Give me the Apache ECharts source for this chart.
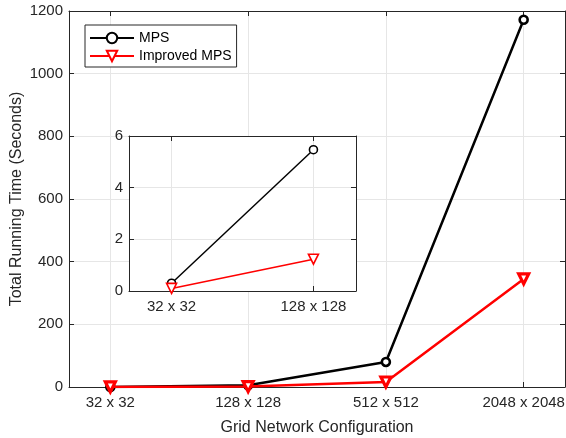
<!DOCTYPE html>
<html><head><meta charset="utf-8">
<script src="https://cdn.jsdelivr.net/npm/echarts@6/dist/echarts.min.js"></script>
<style>html,body{margin:0;padding:0;background:#fff}#c{width:566px;height:438px}</style>
</head><body><div id="c"></div>
<script>
const categories = ['32 x 32', '128 x 128', '512 x 512', '2048 x 2048'];
const mps = [0.3, 5.47, 80, 1172];
const improved = [0.1, 1.23, 16, 345];
const insetCount = 2;
const yTicks = [0, 200, 400, 600, 800, 1000, 1200];
const insetYTicks = [0, 2, 4, 6];

const FONT = "'Liberation Sans', Arial, Helvetica, sans-serif";
const AX = '#262626';
const GRIDC = '#e6e6e6';
const pos = categories.map((c, i) => i + 1);
const insetPos = pos.slice(0, insetCount);
const toPts = (arr, n) => arr.slice(0, n).map((v, i) => [i + 1, v]);
const catFmt = v => categories[Math.round(v) - 1] || '';

function xAx(grid, max, ticks, primary, extra) {
  return Object.assign({
    type: 'value', gridIndex: grid, min: 0.7, max: max,
    position: primary ? 'bottom' : 'top',
    axisLine: { show: true, onZero: false, lineStyle: { color: AX, width: 1 } },
    axisTick: { show: true, inside: true, length: 5, customValues: ticks, lineStyle: { color: AX } },
    axisLabel: primary ? { show: true, customValues: ticks, formatter: catFmt, color: AX, fontSize: 15, fontFamily: FONT, margin: 8 } : { show: false },
    splitLine: { show: primary, lineStyle: { color: GRIDC, width: 1 } }
  }, extra || {});
}
function yAx(grid, max, interval, ticks, primary, extra) {
  return Object.assign({
    type: 'value', gridIndex: grid, min: 0, max: max, interval: interval,
    position: primary ? 'left' : 'right',
    axisLine: { show: true, onZero: false, lineStyle: { color: AX, width: 1 } },
    axisTick: { show: true, inside: true, length: 5, lineStyle: { color: AX } },
    axisLabel: primary ? { show: true, color: AX, fontSize: 15, fontFamily: FONT, margin: 6,
      formatter: v => (ticks.indexOf(v) >= 0 ? String(v) : '') } : { show: false },
    splitLine: { show: primary, lineStyle: { color: GRIDC, width: 1 } }
  }, extra || {});
}

const option = {
  animation: false,
  backgroundColor: '#fff',
  textStyle: { fontFamily: FONT },
  grid: [
    { left: 69, top: 11, width: 496, height: 376, show: false, containLabel: false, outerBoundsMode: 'none' },
    { left: 129, top: 136, width: 227, height: 155, show: true, backgroundColor: '#fff', borderWidth: 0, z: 1, containLabel: false, outerBoundsMode: 'none' }
  ],
  legend: {
    data: ['MPS', 'Improved MPS'],
    orient: 'vertical', left: 85, top: 25,
    itemWidth: 44, itemHeight: 13, itemGap: 4,
    padding: [6, 5, 4, 4],
    borderColor: AX, borderWidth: 1, backgroundColor: '#fff', borderRadius: 0,
    textStyle: { fontSize: 14, color: '#000', fontFamily: FONT },
    z: 10
  },
  xAxis: [
    xAx(0, 4.3, pos, true, { name: 'Grid Network Configuration', nameLocation: 'middle', nameGap: 33, nameMoveOverlap: false, nameTextStyle: { fontSize: 16, color: AX, fontFamily: FONT } }),
    xAx(0, 4.3, pos, false),
    xAx(1, 2.3, insetPos, true, { z: 2 }),
    xAx(1, 2.3, insetPos, false, { z: 2 })
  ],
  yAxis: [
    yAx(0, 1200, 200, yTicks, true, { name: 'Total Running Time (Seconds)', nameLocation: 'middle', nameGap: 44, nameMoveOverlap: false, nameTextStyle: { fontSize: 16, color: AX, fontFamily: FONT } }),
    yAx(0, 1200, 200, yTicks, false),
    yAx(1, 6, 2, insetYTicks, true, { z: 2 }),
    yAx(1, 6, 2, insetYTicks, false, { z: 2 })
  ],
  series: [
    { name: 'MPS', type: 'line', xAxisIndex: 0, yAxisIndex: 0, data: toPts(mps, 4),
      symbol: 'circle', symbolSize: 8, showAllSymbol: true,
      lineStyle: { color: '#000', width: 2.5 }, itemStyle: { color: '#fff', borderColor: '#000', borderWidth: 2.6 }, z: 3 },
    { name: 'Improved MPS', type: 'line', xAxisIndex: 0, yAxisIndex: 0, data: toPts(improved, 4),
      symbol: 'triangle', symbolRotate: 180, symbolSize: 10, showAllSymbol: true,
      lineStyle: { color: '#ff0000', width: 2.5 }, itemStyle: { color: '#fff', borderColor: '#ff0000', borderWidth: 3.2 }, z: 4 },
    { name: 'MPS inset', type: 'line', xAxisIndex: 2, yAxisIndex: 2, data: toPts(mps, insetCount),
      symbol: 'circle', symbolSize: 8, showAllSymbol: true,
      lineStyle: { color: '#000', width: 1.5 }, itemStyle: { color: '#fff', borderColor: '#000', borderWidth: 1.6 }, z: 5 },
    { name: 'Improved MPS inset', type: 'line', xAxisIndex: 2, yAxisIndex: 2, data: toPts(improved, insetCount),
      symbol: 'triangle', symbolRotate: 180, symbolSize: 10, showAllSymbol: true,
      lineStyle: { color: '#ff0000', width: 1.5 }, itemStyle: { color: '#fff', borderColor: '#ff0000', borderWidth: 1.6 }, z: 6 }
  ]
};
const chart = echarts.init(document.getElementById('c'), null, { renderer: 'canvas' });
chart.setOption(option);
</script>
</body></html>
